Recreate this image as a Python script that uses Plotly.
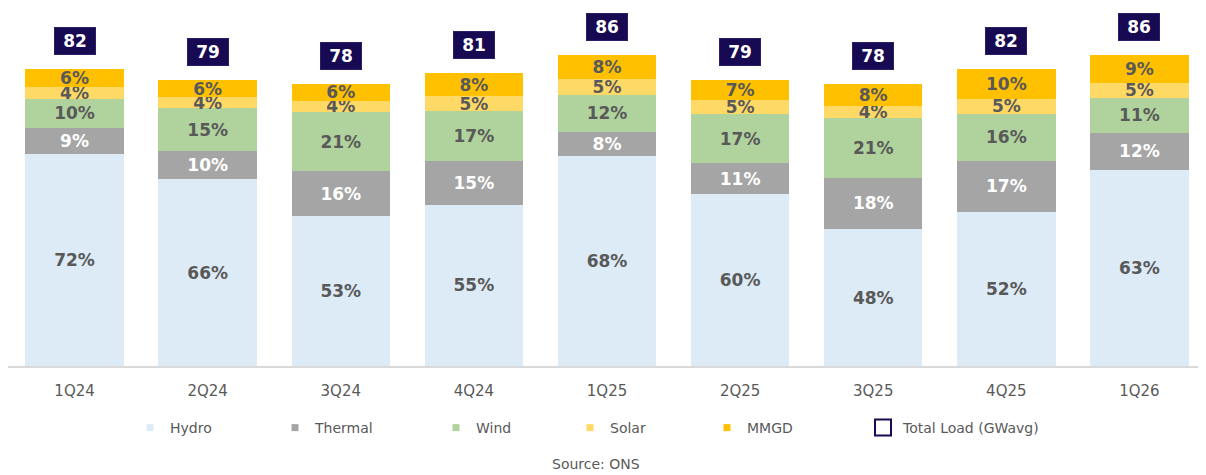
import plotly.graph_objects as go

# ===================== 数据 =====================
quarters = ["1Q24", "2Q24", "3Q24", "4Q24", "1Q25", "2Q25", "3Q25", "4Q25", "1Q26"]
total_load = [82, 79, 78, 81, 86, 79, 78, 82, 86]  # GWavg
hydro = [72, 66, 53, 55, 68, 60, 48, 52, 63]  # %
thermal = [9, 10, 16, 15, 8, 11, 18, 17, 12]
wind = [10, 15, 21, 17, 12, 17, 21, 16, 11]
solar = [4, 4, 4, 5, 5, 5, 4, 5, 5]
mmgd = [6, 6, 6, 8, 8, 7, 8, 10, 9]

FONT = "Verdana, DejaVu Sans, sans-serif"
GREY_TXT = "#595959"
NAVY = "#170a52"

# 页面 body 有 8px 边距，图本身比窗口小 8px
W, H = 1198, 467
PLOT_H = 358

series = [
    ("Hydro", hydro, "#ddebf7", GREY_TXT),
    ("Thermal", thermal, "#a5a5a5", "white"),
    ("Wind", wind, "#b0d39e", GREY_TXT),
    ("Solar", solar, "#ffd966", GREY_TXT),
    ("MMGD", mmgd, "#ffc000", GREY_TXT),
]

# 每个分段 = 占比 / 占比合计 * 总负荷，这样柱高等于总负荷
sums = [sum(s[1][i] for s in series) for i in range(len(quarters))]

fig = go.Figure()
for name, pct, color, txt_color in series:
    heights = [p / sums[i] * total_load[i] for i, p in enumerate(pct)]
    fig.add_trace(
        go.Bar(
            x=quarters,
            y=heights,
            name=name,
            marker=dict(color=color, line=dict(width=0)),
            text=[f"{p}%" for p in pct],
            textposition="inside",
            insidetextanchor="middle",
            constraintext="none",
            textfont=dict(family=FONT, size=17, color=txt_color, weight="bold"),
            showlegend=False,
            hoverinfo="skip",
        )
    )

# 图例：每项单独一个 legend，位置跟原图对齐（屏幕坐标里文字起点）
legend_text_x = [170, 315, 476, 610, 747, 903]
legend_names = ["legend", "legend2", "legend3", "legend4", "legend5", "legend6"]
for k, (name, _, color, _) in enumerate(series):
    fig.add_trace(
        go.Scatter(
            x=[None],
            y=[None],
            mode="markers",
            name=name,
            marker=dict(symbol="square", size=7, color=color),
            legend=legend_names[k],
        )
    )
fig.add_trace(
    go.Scatter(
        x=[None],
        y=[None],
        mode="markers",
        name="Total Load (GWavg)",
        marker=dict(symbol="square-open", size=16, color=NAVY, line=dict(width=2, color=NAVY)),
        legend=legend_names[5],
    )
)

legend_layout = {}
for k, ln in enumerate(legend_names):
    legend_layout[ln] = dict(
        xref="container",
        yref="container",
        x=(legend_text_x[k] - 8 - 40) / W,
        y=1 - (428 - 8) / H,
        xanchor="left",
        yanchor="middle",
        orientation="h",
        bgcolor="rgba(0,0,0,0)",
        font=dict(family=FONT, size=14, color=GREY_TXT),
        itemsizing="trace",
    )

# 总负荷标签
for q, t in zip(quarters, total_load):
    fig.add_annotation(
        x=q,
        y=t,
        yanchor="bottom",
        yshift=14,
        text=str(t),
        showarrow=False,
        font=dict(family=FONT, size=17, color="white", weight="bold"),
        bgcolor=NAVY,
        bordercolor="#2a1f66",
        borderwidth=1,
        borderpad=3,
        width=34,
        height=20,
    )

fig.add_annotation(
    xref="paper",
    yref="paper",
    x=(596 - 8) / W,
    y=-(464 - 8 - PLOT_H) / PLOT_H,
    text="Source: ONS",
    showarrow=False,
    font=dict(family=FONT, size=14, color=GREY_TXT),
    xanchor="center",
    yanchor="middle",
)

fig.update_layout(
    barmode="stack",
    bargap=0.26,
    width=W,
    height=H,
    margin=dict(l=0, r=0, t=0, b=H - PLOT_H),
    plot_bgcolor="white",
    paper_bgcolor="white",
    font=dict(family=FONT, color=GREY_TXT),
    xaxis=dict(
        showline=True,
        linecolor="#d9d9d9",
        linewidth=2,
        ticks="",
        ticklabelstandoff=10,
        tickfont=dict(family=FONT, size=15, color=GREY_TXT),
        showgrid=False,
    ),
    yaxis=dict(range=[0, PLOT_H / 3.62], visible=False, showgrid=False),
    **legend_layout,
)

fig.write_html("out.html")
